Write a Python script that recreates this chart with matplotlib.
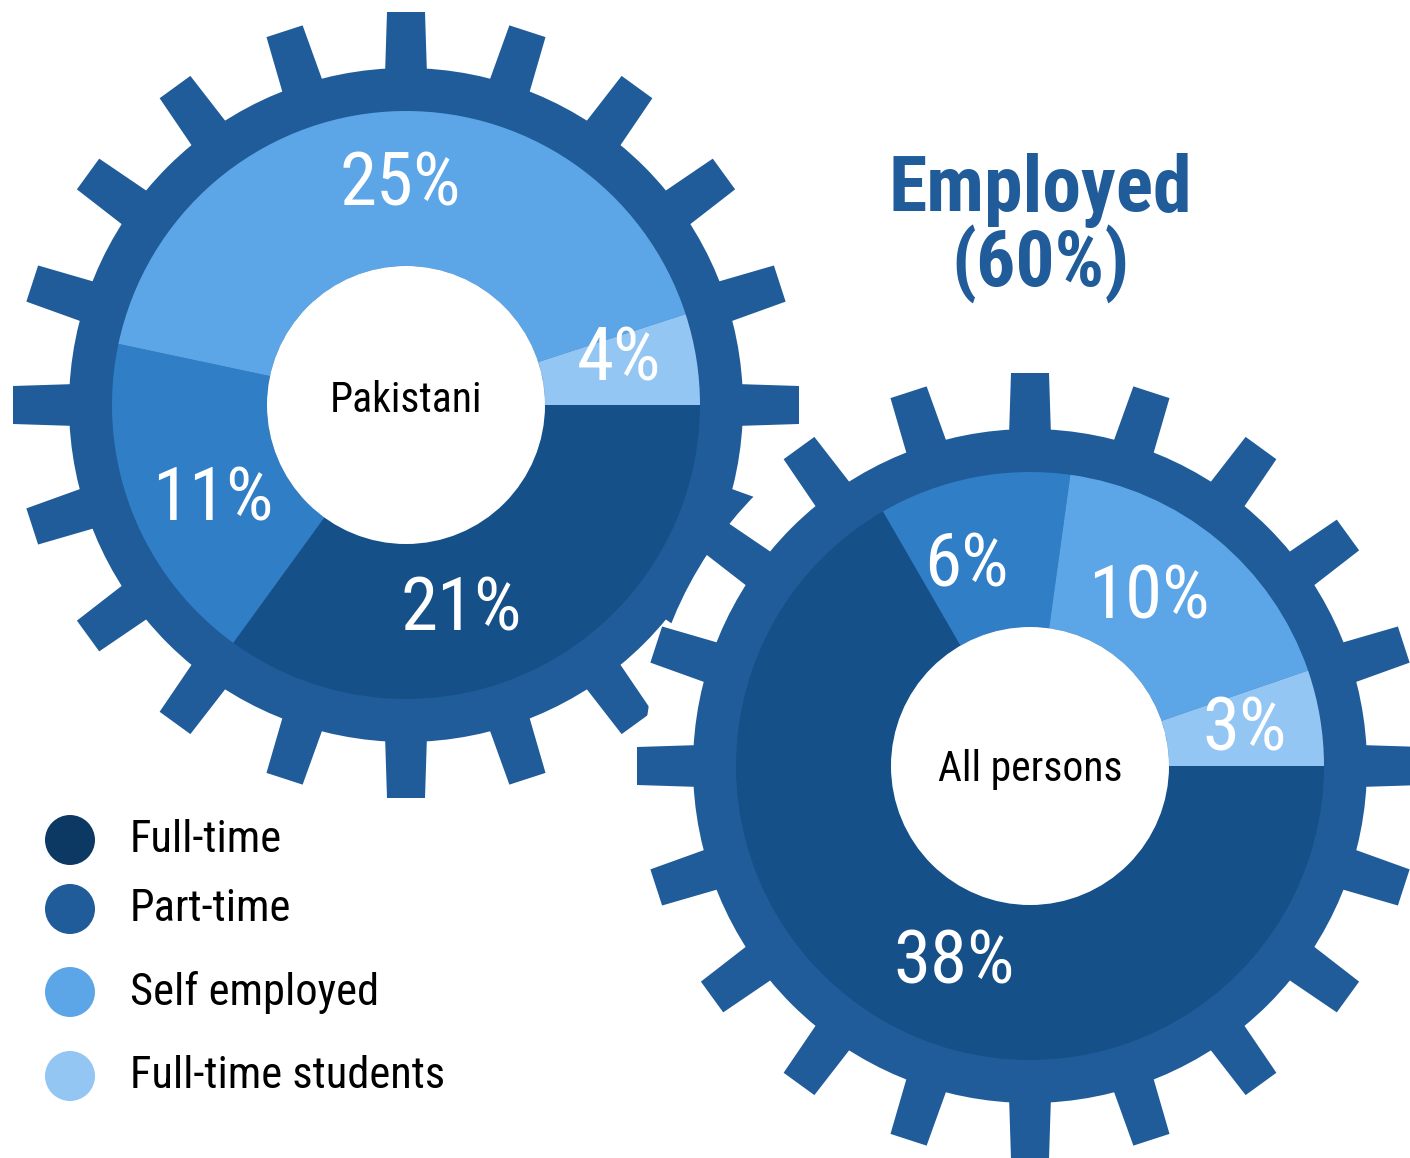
import numpy as np
import matplotlib
matplotlib.use('Agg')
import matplotlib.pyplot as plt
from matplotlib.patches import Circle, Polygon

plt.rcParams['font.family'] = ['Roboto Condensed', 'Noto Sans Condensed', 'Open Sans Condensed',
                               'Liberation Sans Narrow', 'Noto Sans', 'DejaVu Sans']
plt.rcParams['font.stretch'] = 'condensed'

# data
categories = ['Full-time', 'Part-time', 'Self employed', 'Full-time students']
groups = ['Pakistani', 'All persons']
pakistani_share = [21, 11, 25, 3]
pakistani_labels = ['21%', '11%', '25%', '4%']
all_share = [38, 6, 10, 3]
all_labels = ['38%', '6%', '10%', '3%']
title = 'Employed\n(60%)'

# styles
gear_col = '#1F5C99'
slice_cols = ['#165088', '#307EC6', '#5CA6E8', '#94C6F4']
legend_cols = ['#0C3963', '#1F5C99', '#5CA6E8', '#94C6F4']
# label placement tweaks: (angle nudge in degrees, radius)
pak_lab_pos = [(-11.7, 208), (4.2, 214), (-1.6, 224), (3.8, 219)]
all_lab_pos = [(8.5, 207), (6.3, 214), (4.8, 209), (1.0, 218)]

W, H = 1410, 1158
fig = plt.figure(figsize=(W / 100, H / 100), dpi=100)
ax = fig.add_axes([0, 0, 1, 1])

R_HOLE, R_PIE, R_RING, R_TOOTH = 139, 294, 337, 393


def draw_gear(cx, cy, shares, labels, lab_pos, name, name_dy=0, backing=False):
    if backing:
        # white disc so the front gear's gaps hide the gear behind it
        ax.add_patch(Circle((cx, cy), 386, color='white', lw=0, zorder=1))
    for a in np.deg2rad(np.arange(0, 360, 18)):
        u = np.array([np.cos(a), np.sin(a)])
        n = np.array([-np.sin(a), np.cos(a)])
        c = np.array([cx, cy])
        pts = [c + 330 * u - 21 * n, c + R_TOOTH * u - 19 * n,
               c + R_TOOTH * u + 19 * n, c + 330 * u + 21 * n]
        ax.add_patch(Polygon(pts, closed=True, color=gear_col, lw=0, zorder=1))
    ax.add_patch(Circle((cx, cy), R_RING, color=gear_col, lw=0, zorder=1))
    wedges, _ = ax.pie(shares, colors=slice_cols, startangle=0, counterclock=False,
                       center=(cx, cy), radius=R_PIE,
                       wedgeprops=dict(width=R_PIE - R_HOLE, lw=0))
    for w in wedges:
        w.set_zorder(2)
    ax.add_patch(Circle((cx, cy), R_HOLE, color='white', lw=0, zorder=3))
    for w, lab, (nudge, r) in zip(wedges, labels, lab_pos):
        mid = np.deg2rad((w.theta1 + w.theta2) / 2 + nudge)
        ax.text(cx + r * np.cos(mid), cy + r * np.sin(mid) - 4, lab,
                color='white', fontsize=54, ha='center', va='center', zorder=4)
    ax.text(cx, cy + name_dy, name, color='black', fontsize=30,
            ha='center', va='center', zorder=4)


draw_gear(406, H - 405, pakistani_share, pakistani_labels, pak_lab_pos, groups[0], name_dy=5)
draw_gear(1030, H - 766, all_share, all_labels, all_lab_pos, groups[1], name_dy=-4,
          backing=True)

ax.text(1040, H - 228, title, color=gear_col, fontsize=56, fontweight='bold',
        ha='center', va='center', linespacing=0.95)

leg_y = [840, 909, 992, 1076]
for cat, col, y in zip(categories, legend_cols, leg_y):
    ax.add_patch(Circle((70, H - y), 25, color=col, lw=0))
    ax.text(130, H - y, cat, fontsize=32, ha='left', va='center')

ax.set_xlim(0, W)
ax.set_ylim(0, H)
ax.set_aspect('equal')
ax.axis('off')

fig.savefig('out.png', dpi=100)
